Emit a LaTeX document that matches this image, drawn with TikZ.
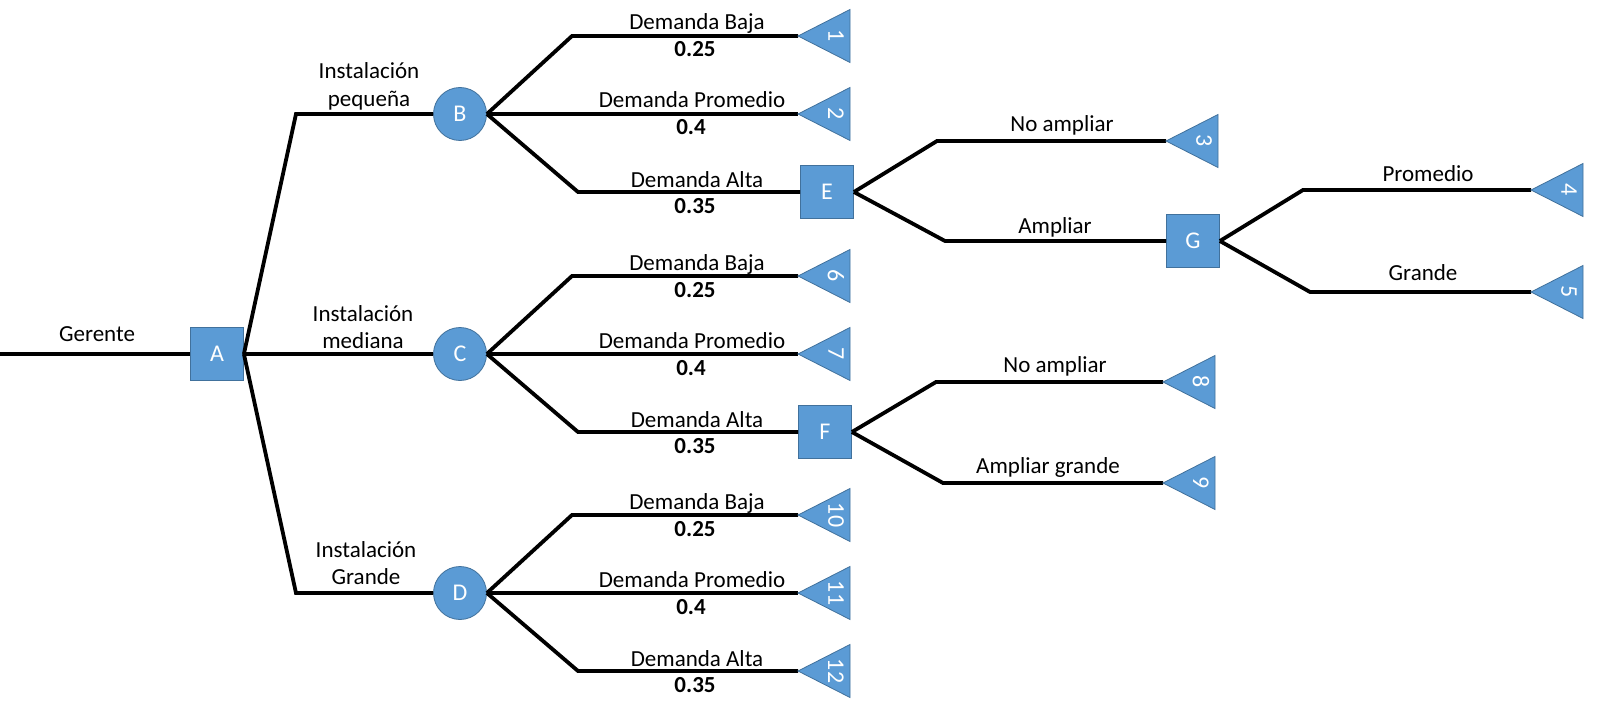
\documentclass[tikz,border=0pt]{standalone}
\usepackage{fontspec}
\setmainfont{Carlito}
\definecolor{boxblue}{HTML}{5B9BD5}
\definecolor{boxborder}{HTML}{41719C}
\newcommand\termtri[2]{%
  \filldraw[termshape] (#1) -- ++(52,-26.5) -- ++(0,53) -- cycle;
  \node[num] (#1n) at ([xshift=38pt]#1) {#2};}
\begin{document}
\begin{tikzpicture}[x=1pt,y=-1pt,
  conn/.style={line width=3.8pt, draw=black},
  dec/.style={draw=boxborder, line width=0.8pt, fill=boxblue, minimum size=53pt, inner sep=0pt, text=white, font=\fontsize{24}{28}\selectfont},
  sq/.style={dec, rectangle},
  ch/.style={dec, circle},
  lbl/.style={anchor=base, inner sep=0pt, font=\fontsize{23}{27}\selectfont},
  prob/.style={anchor=base, inner sep=0pt, font=\fontsize{23}{27}\selectfont\bfseries},
  termshape/.style={fill=boxblue, draw=boxborder, line width=0.8pt},
  num/.style={rotate=-90, text=white, inner sep=0pt, font=\fontsize{24}{28}\selectfont}]
\useasboundingbox (0,0) rectangle (1602,714);
% decision / chance nodes
\node[sq] (A) at (217,354) {A};
\node[ch] (B) at (460,114) {B};
\node[ch] (C) at (460,354) {C};
\node[ch] (D) at (460,593) {D};
\node[sq] (E) at (827,192) {E};
\node[sq] (F) at (825,432) {F};
\node[sq] (G) at (1193,241) {G};
% bend points and terminal tips
\coordinate (start) at (0,354);
\coordinate (aB) at (296,114);
\coordinate (aD) at (296,593);
\coordinate (bu) at (572,36);  \coordinate (bl) at (578,192);
\coordinate (cu) at (572,276); \coordinate (cl) at (578,432);
\coordinate (du) at (572,515); \coordinate (dl) at (578,671);
\coordinate (eu) at (937,141); \coordinate (el) at (945,241);
\coordinate (fu) at (936,382); \coordinate (fl) at (943,483);
\coordinate (gu) at (1303,190); \coordinate (gl) at (1310,292);
\coordinate (t1) at (798,36);   \coordinate (t2) at (798,114);
\coordinate (t6) at (798,276);  \coordinate (t7) at (798,354);
\coordinate (t10) at (798,515); \coordinate (t11) at (798,593); \coordinate (t12) at (798,671);
\coordinate (t3) at (1166,141);
\coordinate (t4) at (1531,190); \coordinate (t5) at (1531,292);
\coordinate (t8) at (1163,382); \coordinate (t9) at (1163,483);
% connectors
\draw[conn] (start) -- (A.west);
\draw[conn] (A.east) -- (aB) -- (B.west);
\draw[conn] (A.east) -- (C.west);
\draw[conn] (A.east) -- (aD) -- (D.west);
\draw[conn] (B.east) -- (bu) -- (t1);
\draw[conn] (B.east) -- (t2);
\draw[conn] (B.east) -- (bl) -- (E.west);
\draw[conn] (C.east) -- (cu) -- (t6);
\draw[conn] (C.east) -- (t7);
\draw[conn] (C.east) -- (cl) -- (F.west);
\draw[conn] (D.east) -- (du) -- (t10);
\draw[conn] (D.east) -- (t11);
\draw[conn] (D.east) -- (dl) -- (t12);
\draw[conn] (E.east) -- (eu) -- (t3);
\draw[conn] (E.east) -- (el) -- (G.west);
\draw[conn] (G.east) -- (gu) -- (t4);
\draw[conn] (G.east) -- (gl) -- (t5);
\draw[conn] (F.east) -- (fu) -- (t8);
\draw[conn] (F.east) -- (fl) -- (t9);
% terminals
\termtri{t1}{1}
\termtri{t2}{2}
\termtri{t3}{3}
\termtri{t4}{4}
\termtri{t5}{5}
\termtri{t6}{6}
\termtri{t7}{7}
\termtri{t8}{8}
\termtri{t9}{9}
\termtri{t10}{10}
\termtri{t11}{11}
\termtri{t12}{12}
% labels
\node[lbl] (lg) at (97,341) {Gerente};
\node[lbl] (lb1) at (369,79) {Instalación};
\node[lbl] (lb2) at (369,107) {pequeña};
\node[lbl] (lc1) at (363,321) {Instalación};
\node[lbl] (lc2) at (363,348) {mediana};
\node[lbl] (ld1) at (366,557) {Instalación};
\node[lbl] (ld2) at (366,584) {Grande};
\foreach \g/\n in {0/b,240/c,479/d}{
  \node[lbl] (\n baja) at (697,30+\g) {Demanda Baja};
  \node[prob] (\n pbaja) at (695,57+\g) {0.25};
  \node[lbl] (\n prom) at (692,108+\g) {Demanda Promedio};
  \node[prob] (\n pprom) at (691,135+\g) {0.4};
  \node[lbl] (\n alta) at (697,187+\g) {Demanda Alta};
  \node[prob] (\n palta) at (695,213+\g) {0.35};
}
\node[lbl] (le1) at (1062,132) {No ampliar};
\node[lbl] (le2) at (1055,233) {Ampliar};
\node[lbl] (lg1) at (1428,182) {Promedio};
\node[lbl] (lg2) at (1423,280) {Grande};
\node[lbl] (lf1) at (1055,372) {No ampliar};
\node[lbl] (lf2) at (1048,473) {Ampliar grande};
\end{tikzpicture}
\end{document}
